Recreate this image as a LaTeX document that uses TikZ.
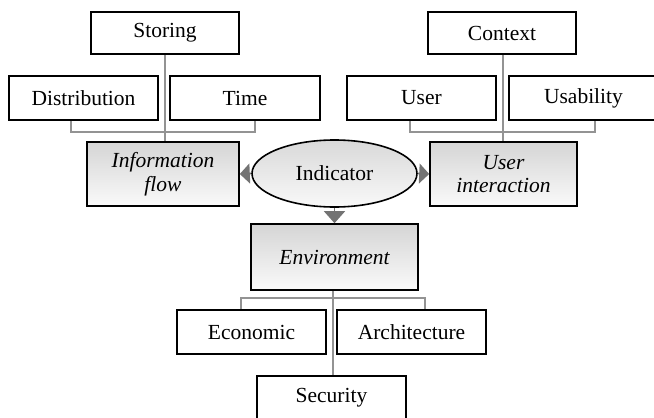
\documentclass[tikz,border=0pt]{standalone}
\usepackage{fontspec}
\setmainfont{Liberation Serif}
\usetikzlibrary{shapes.geometric,arrows.meta}

\tikzset{
  leaf/.style={draw=black, line width=1.6pt, fill=white, minimum height=44pt,
    minimum width=149pt, inner sep=0pt, font=\fontsize{21.5}{24}\selectfont},
  category/.style={draw=black, line width=1.6pt, top color=gray!33, bottom color=gray!4,
    inner sep=0pt, align=center, font=\fontsize{21.5}{23.5}\selectfont\itshape},
  hub/.style={ellipse, draw=black, line width=1.6pt, top color=gray!30, bottom color=gray!5,
    minimum width=165pt, minimum height=67pt, inner sep=0pt, font=\fontsize{21.5}{24}\selectfont},
  link/.style={draw=gray!85, line width=1.4pt},
  flow/.style={draw=gray, line width=1.6pt, -{Triangle[width=20pt,length=10pt]}, color=gray!90!black},
}

\begin{document}
\begin{tikzpicture}[x=1pt,y=-1pt]
  \useasboundingbox (0,0) rectangle (654,418);
  \clip (0,0) rectangle (654,418);

  % central indicator
  \node[hub] (ind) at (334.5,173.5) {Indicator};

  % three categories
  \node[category, minimum width=152pt, minimum height=64pt] (info) at (163,174) {Information\\flow};
  \node[category, minimum width=147pt, minimum height=64pt] (uint) at (503.5,174) {User\\interaction};
  \node[category, minimum width=167pt, minimum height=66pt] (env) at (334.5,257) {Environment};

  % information flow aspects
  \node[leaf, minimum height=42pt, minimum width=148pt] (stor) at (165,33) {Storing};
  \node[leaf] (dist) at (83.5,98) {Distribution};
  \node[leaf, minimum width=150pt] (time) at (245,98) {Time};

  % user interaction aspects
  \node[leaf, minimum height=42pt, minimum width=148pt] (ctx) at (502,33) {Context};
  \node[leaf] (user) at (421.5,98) {User};
  \node[leaf] (usab) at (583.5,98) {Usability};

  % environment aspects
  \node[leaf] (econ) at (251.5,332) {Economic};
  \node[leaf] (arch) at (411.5,332) {Architecture};
  \node[leaf] (sec) at (331.5,398) {Security};

  % tree connectors
  \draw[link] (stor.south) -- (stor.south |- info.north);
  \draw[link] (dist.south -| 71,0) -- (71,132) -- (255,132) -- (time.south -| 255,0);

  \draw[link] (ctx.south -| 503,0) -- (uint.north -| 503,0);
  \draw[link] (user.south -| 410,0) -- (410,132) -- (595,132) -- (usab.south -| 595,0);

  \draw[link] (env.south -| 333,0) -- (sec.north -| 333,0);
  \draw[link] (econ.north -| 241,0) -- (241,298) -- (425,298) -- (arch.north -| 425,0);

  % arrows from the indicator
  \draw[flow] (ind.west) -- (info.east);
  \draw[flow] (ind.east) -- (uint.west);
  \draw[flow, -{Triangle[width=21pt,length=12pt]}] (ind.south) -- (env.north);
\end{tikzpicture}
\end{document}
